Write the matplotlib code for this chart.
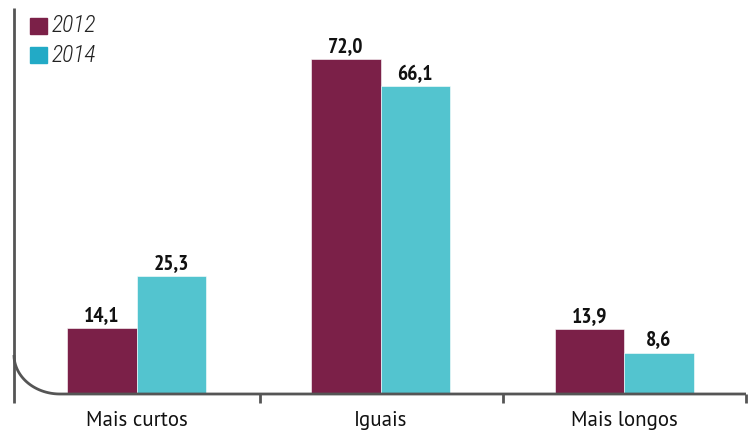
import numpy as np
import matplotlib.pyplot as plt
from matplotlib.patches import Rectangle

# dados
categorias = ['Mais curtos', 'Iguais', 'Mais longos']
series = ['2012', '2014']
valores_2012 = [14.1, 72.0, 13.9]
valores_2014 = [25.3, 66.1, 8.6]

cor_2012 = '#7B2048'
cor_2014 = '#53C4CF'
cor_leg_2014 = '#22AAC6'
cor_eixo = '#555555'

W, H = 750, 432
fig = plt.figure(figsize=(7.5, 4.32), dpi=100)

# eixo em coordenadas de pixel: x de 15 a 746, base em y=393
x0, x1 = 15, 746
y_base, y_top = 393, 10
ax = fig.add_axes([x0 / W, (H - y_base) / H, (x1 - x0) / W, (y_base - y_top) / H])
ax.set_xlim(-0.5, 2.5)
ax.set_ylim(0, (y_base - y_top) / 4.64)
ax.axis('off')

x = np.arange(len(categorias))
larg = 0.285
b1 = ax.bar(x - larg / 2, valores_2012, larg, color=cor_2012, edgecolor='white', linewidth=0.4)
b2 = ax.bar(x + larg / 2, valores_2014, larg, color=cor_2014, edgecolor='white', linewidth=0.4)

fonte_num = ['PT Sans Narrow', 'DejaVu Sans']
fonte_leg = ['Roboto Condensed', 'DejaVu Sans']
fonte_cat = ['PT Sans', 'DejaVu Sans']
for barras in (b1, b2):
    for r in barras:
        v = r.get_height()
        ax.annotate(f'{v:.1f}'.replace('.', ','), (r.get_x() + r.get_width() / 2, v),
                    xytext=(0, 2), textcoords='offset points', ha='center', va='bottom',
                    fontsize=15.5, fontweight='bold', family=fonte_num, color='#111111')

# linha do eixo com canto arredondado (em pixels)
def px(xp, yp):
    return np.asarray(xp) / W, 1 - np.asarray(yp) / H

t = np.linspace(0, np.pi / 2, 40)
cx = 60 - 46 * np.cos(t)
cy = 355 + 39 * np.sin(t)
fx, fy = px(np.concatenate([cx, [746]]), np.concatenate([cy, [394]]))
fig.add_artist(plt.Line2D(fx, fy, color=cor_eixo, lw=2, solid_capstyle='butt'))
fx, fy = px([14, 14], [8, 403])
fig.add_artist(plt.Line2D(fx, fy, color=cor_eixo, lw=2, solid_capstyle='butt'))
for tx in (260, 503, 746):
    fx, fy = px([tx, tx], [394, 403])
    fig.add_artist(plt.Line2D(fx, fy, color=cor_eixo, lw=2, solid_capstyle='butt'))

# rótulos das categorias
for i, c in enumerate(categorias):
    cxp = x0 + (i + 0.5) * (x1 - x0) / 3
    fig.text(cxp / W, 1 - 420 / H, c, ha='center', va='center', fontsize=15,
             family=fonte_cat, color='#111111')

# legenda
for j, (s, cor) in enumerate(zip(series, [cor_2012, cor_leg_2014])):
    yy = 18 + j * 29
    fig.add_artist(Rectangle((30 / W, 1 - (yy + 16) / H), 17 / W, 16 / H,
                             transform=fig.transFigure, color=cor))
    fig.text(52 / W, 1 - (yy + 8) / H, s, ha='left', va='center', fontsize=17,
             style='italic', weight='light', family=fonte_leg, color='#222222')

fig.savefig('out.png', dpi=100)
